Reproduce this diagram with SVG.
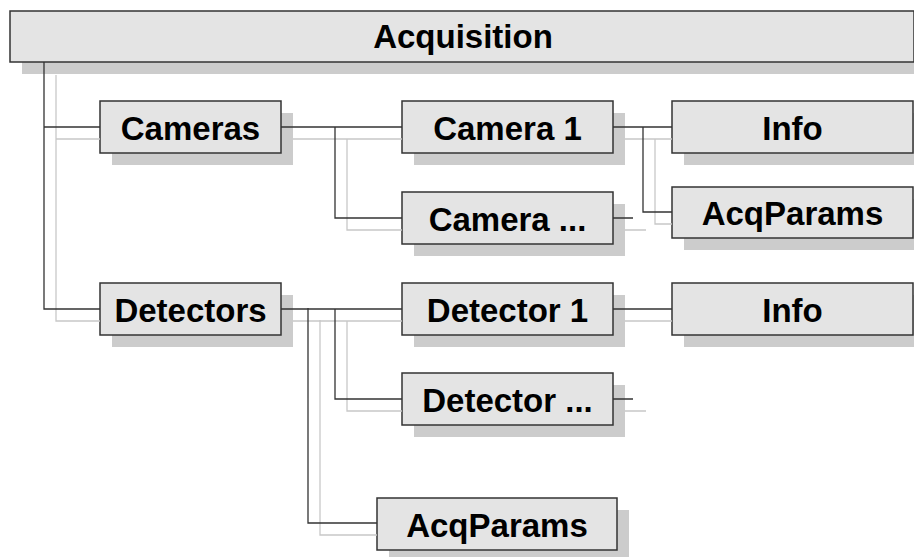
<svg xmlns="http://www.w3.org/2000/svg" width="914" height="557" viewBox="0 0 914 557">
<style>
.sh{fill:#cccccc;stroke:none}
.bx{fill:#e4e4e4;stroke:#333333;stroke-width:1.5}
.tx{font-family:"Liberation Sans",Arial,sans-serif;font-weight:bold;font-size:33px;fill:#000;text-anchor:middle}
.dk{fill:none;stroke:#333333;stroke-width:1.3}
.lt{fill:none;stroke:#c8c8c8;stroke-width:1.3}
</style>
<rect width="914" height="557" fill="#ffffff"/>
<g id="acquisition"><rect class="sh" x="22" y="23" width="904" height="51"/><rect class="bx" x="10" y="11" width="904" height="51"/><text class="tx" x="463" y="48">Acquisition</text></g>
<g id="cameras"><rect class="sh" x="112" y="113" width="181" height="52"/><rect class="bx" x="100" y="101" width="181" height="52"/><text class="tx" x="190.5" y="140">Cameras</text></g>
<g id="camera1"><rect class="sh" x="414" y="113" width="211" height="52"/><rect class="bx" x="402" y="101" width="211" height="52"/><text class="tx" x="507.5" y="140">Camera 1</text></g>
<g id="cameraN"><rect class="sh" x="414" y="204" width="211" height="52"/><rect class="bx" x="402" y="192" width="211" height="52"/><text class="tx" x="507.5" y="231">Camera ...</text></g>
<g id="info1"><rect class="sh" x="684" y="113" width="241" height="52"/><rect class="bx" x="672" y="101" width="241" height="52"/><text class="tx" x="792.5" y="140">Info</text></g>
<g id="acqparams1"><rect class="sh" x="684" y="199" width="241" height="51"/><rect class="bx" x="672" y="187" width="241" height="51"/><text class="tx" x="792.5" y="225">AcqParams</text></g>
<g id="detectors"><rect class="sh" x="112" y="295" width="181" height="52"/><rect class="bx" x="100" y="283" width="181" height="52"/><text class="tx" x="190.5" y="322">Detectors</text></g>
<g id="detector1"><rect class="sh" x="414" y="295" width="211" height="52"/><rect class="bx" x="402" y="283" width="211" height="52"/><text class="tx" x="507.5" y="322">Detector 1</text></g>
<g id="info2"><rect class="sh" x="684" y="295" width="241" height="52"/><rect class="bx" x="672" y="283" width="241" height="52"/><text class="tx" x="792.5" y="322">Info</text></g>
<g id="detectorN"><rect class="sh" x="414" y="385" width="211" height="52"/><rect class="bx" x="402" y="373" width="211" height="52"/><text class="tx" x="507.5" y="412">Detector ...</text></g>
<g id="acqparams2"><rect class="sh" x="389" y="510" width="240" height="52"/><rect class="bx" x="377" y="498" width="240" height="52"/><text class="tx" x="497" y="537">AcqParams</text></g>
<g id="connectors">
<path class="lt" d="M56,75V321H100M56,139H100M293,139H402M347,139V230H402M625,139H672M655,139V224H672M625,230H646M293,321H402M347,321V411H402M320,320V535H377M625,321H672M625,411H646"/>
<path class="dk" d="M44,62V309H100M44,127H100M281,127H402M335,127V218H402M613,127H672M643,127V212H672M613,218H633M281,309H402M335,309V399H402M308,308V523H377M613,309H672M613,399H633"/>
</g>
</svg>
